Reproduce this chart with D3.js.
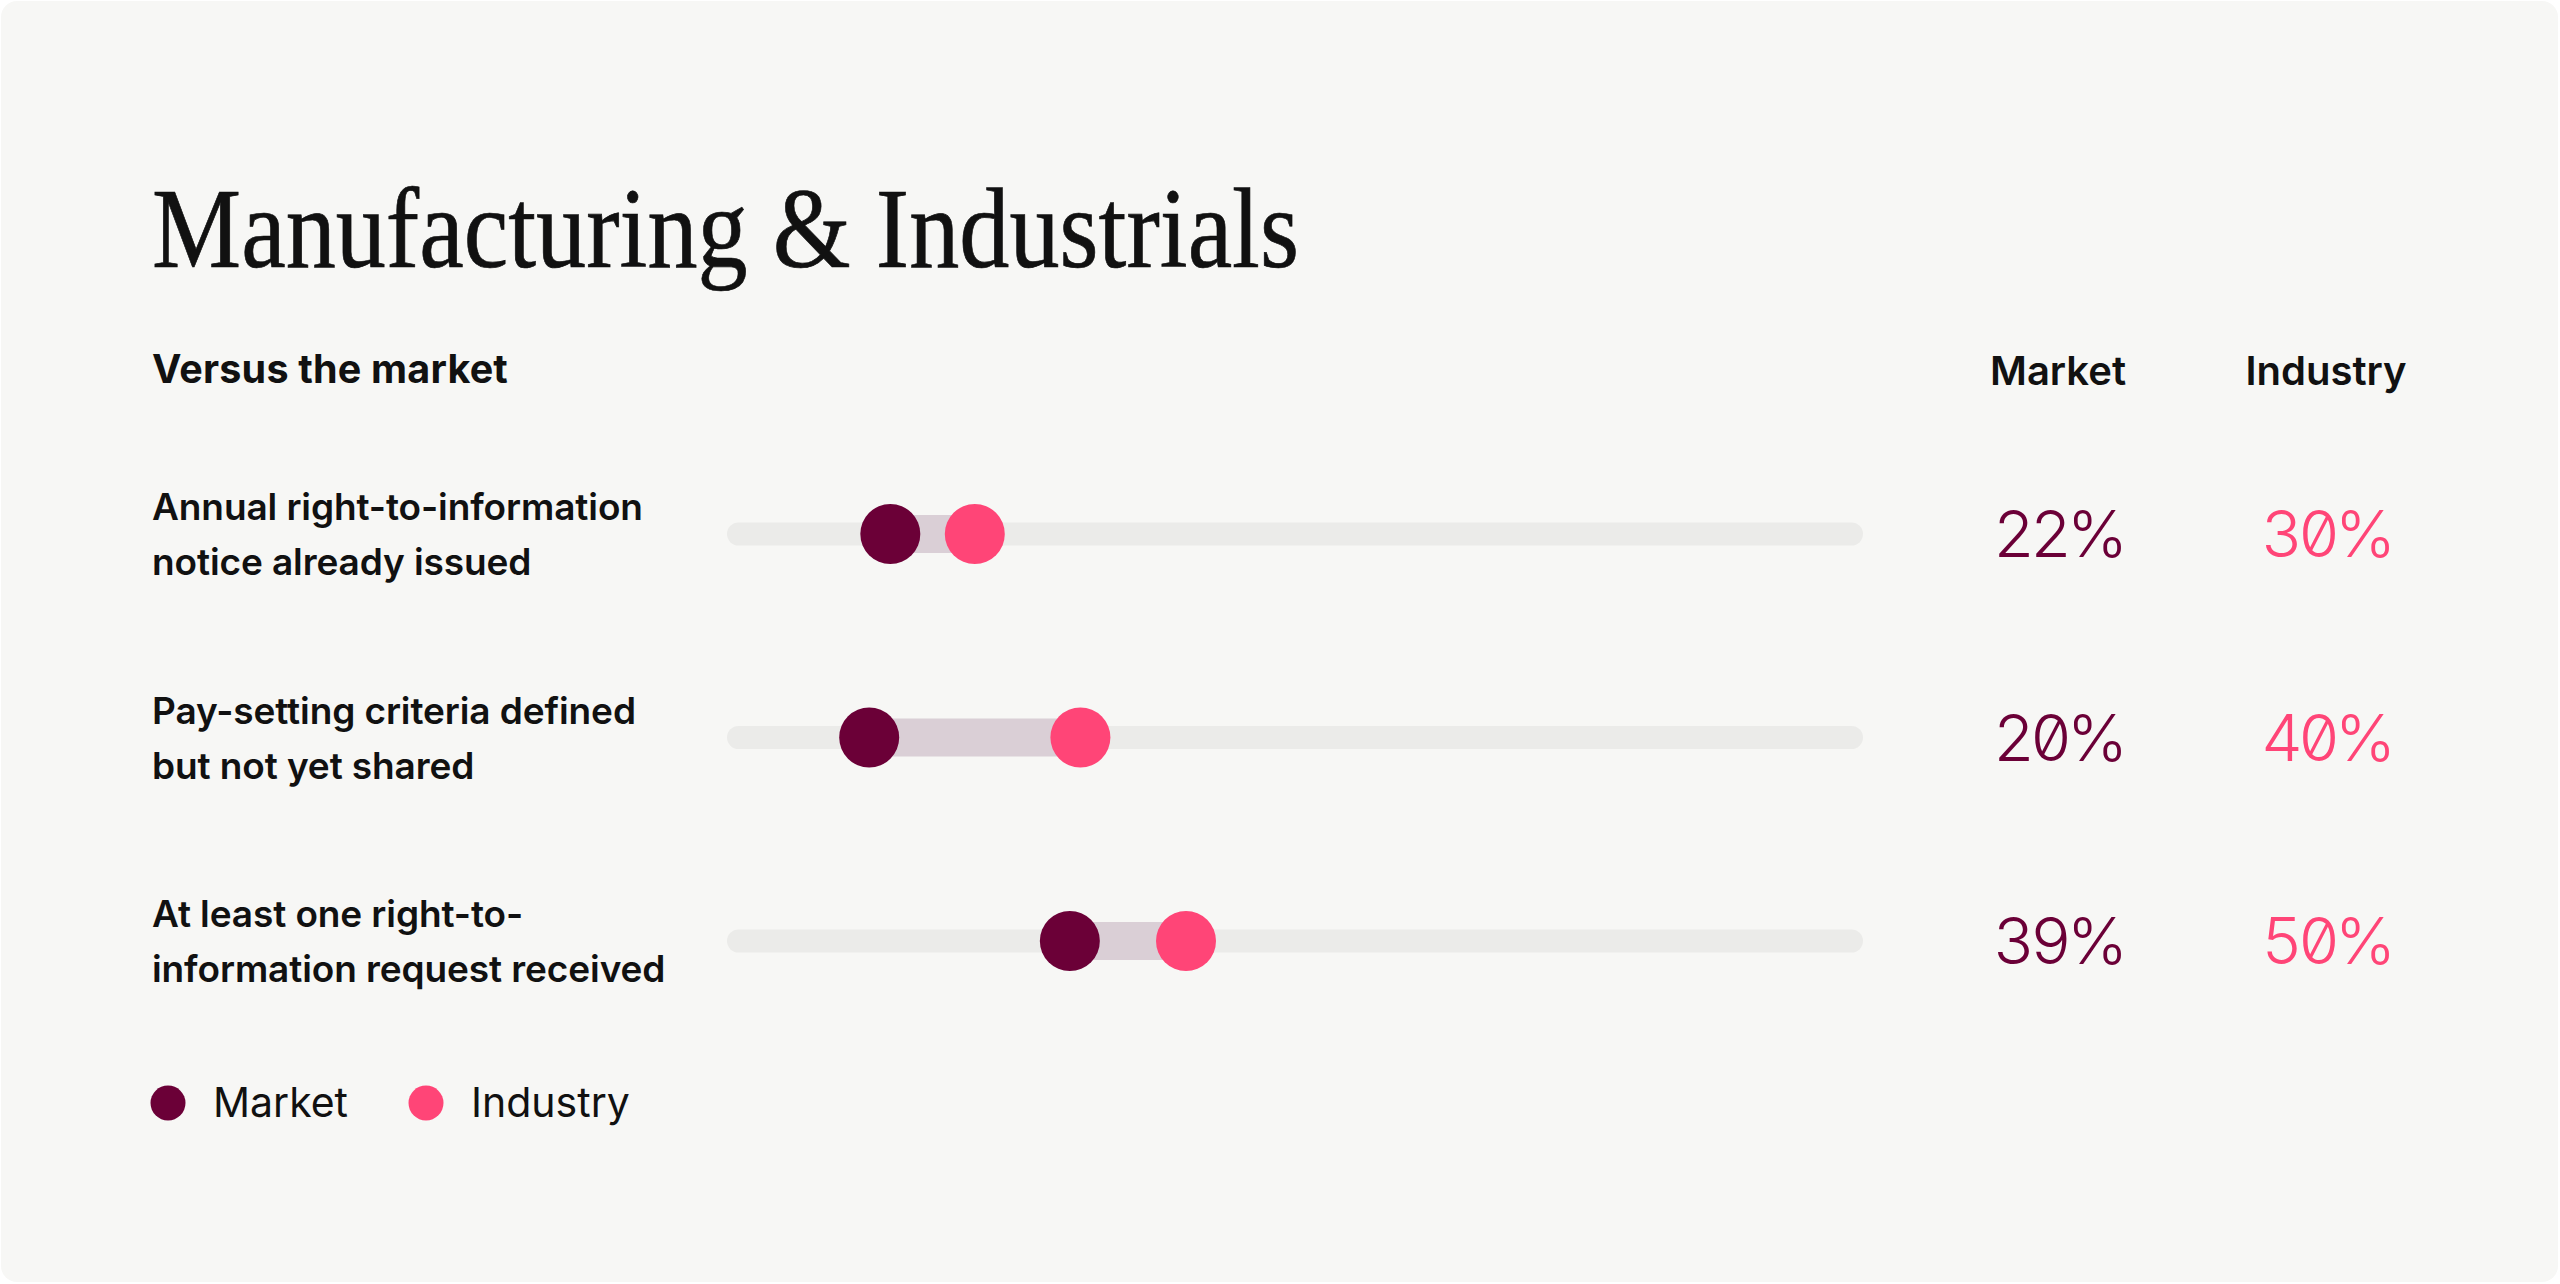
<!DOCTYPE html>
<html>
<head>
<meta charset="utf-8">
<script src="https://cdn.jsdelivr.net/npm/d3@7"></script>
<style>
  body { margin: 0; background: #ffffff; }
  svg { display: block; }
  .sans { font-family: Inter, "Noto Sans", sans-serif; }
  .num { font-family: Inter, sans-serif; font-feature-settings: "zero" 1, "tnum" 1; }
</style>
</head>
<body>
<svg id="chart" width="2560" height="1284"></svg>
<script>
// dades del gràfic
const title = "Manufacturing & Industrials";
const subtitle = "Versus the market";
const categories = [
  ["Annual right-to-information", "notice already issued"],
  ["Pay-setting criteria defined", "but not yet shared"],
  ["At least one right-to-", "information request received"]
];
const seriesNames = ["Market", "Industry"];
const marketValues = [22, 20, 39];
const industryValues = [30, 40, 50];

const colors = { Market: "#6b0037", Industry: "#ff4577" };

const svg = d3.select("#chart");

// targeta de fons
svg.append("rect")
  .attr("x", 1).attr("y", 1)
  .attr("width", 2557).attr("height", 1281)
  .attr("rx", 16)
  .attr("fill", "#f7f7f5");

// títol
svg.append("text")
  .attr("x", 152).attr("y", 267)
  .attr("textLength", 1147)
  .attr("lengthAdjust", "spacingAndGlyphs")
  .style("font-family", "'Liberation Serif', serif")
  .style("font-size", "114px")
  .attr("fill", "#111")
  .attr("stroke", "#111")
  .attr("stroke-width", 0.7)
  .text(title);

svg.append("text")
  .attr("class", "sans")
  .attr("x", 152).attr("y", 383)
  .style("font-size", "39.5px")
  .style("font-weight", 700)
  .style("letter-spacing", "0.2px")
  .attr("fill", "#111")
  .text(subtitle);

// escales
const x = d3.scaleLinear().domain([0, 100]).range([658, 1714]);
const y = d3.scalePoint().domain(d3.range(categories.length)).range([534, 941]);
const col = d3.scalePoint().domain(seriesNames).range([2058, 2326]);

const trackLeft = 727, trackRight = 1863, trackH = 23;

// capçaleres de columna
svg.selectAll(".colhead")
  .data(seriesNames)
  .enter().append("text")
  .attr("class", "sans colhead")
  .attr("x", d => col(d)).attr("y", 385)
  .attr("text-anchor", "middle")
  .style("font-size", "40px")
  .style("font-weight", 600)
  .attr("fill", "#111")
  .text(d => d);

const rows = categories.map((c, i) => ({ lines: c, market: marketValues[i], industry: industryValues[i], i }));

const row = svg.selectAll(".row")
  .data(rows)
  .enter().append("g")
  .attr("class", "row")
  .attr("transform", d => `translate(0,${y(d.i)})`);

// etiquetes
row.append("text")
  .attr("class", "sans")
  .attr("x", 152)
  .style("font-size", "37px")
  .style("font-weight", 600)
  .style("letter-spacing", "-0.1px")
  .attr("fill", "#111")
  .selectAll("tspan")
  .data(d => d.lines)
  .enter().append("tspan")
  .attr("x", 152)
  .attr("y", (d, j) => j === 0 ? -14 : 41)
  .text(d => d);

// pista de fons
row.append("rect")
  .attr("x", trackLeft).attr("y", -trackH / 2)
  .attr("width", trackRight - trackLeft).attr("height", trackH)
  .attr("rx", trackH / 2)
  .attr("fill", "#ebebe9");

// rang entre punts
row.append("rect")
  .attr("x", d => x(Math.min(d.market, d.industry)))
  .attr("y", -19)
  .attr("width", d => Math.abs(x(d.industry) - x(d.market)))
  .attr("height", 38)
  .attr("fill", "#dacfd6");

// punts
row.append("circle")
  .attr("cx", d => x(d.market)).attr("cy", 0).attr("r", 30)
  .attr("fill", colors.Market);
row.append("circle")
  .attr("cx", d => x(d.industry)).attr("cy", 0).attr("r", 30)
  .attr("fill", colors.Industry);

// valors
row.append("text")
  .attr("class", "num")
  .attr("x", col("Market")).attr("y", 23)
  .attr("text-anchor", "middle")
  .style("font-size", "65px")
  .style("font-weight", 300)
  .style("letter-spacing", "-5px")
  .attr("fill", colors.Market)
  .text(d => d.market + "%");
row.append("text")
  .attr("class", "num")
  .attr("x", col("Industry")).attr("y", 23)
  .attr("text-anchor", "middle")
  .style("font-size", "65px")
  .style("font-weight", 300)
  .style("letter-spacing", "-5px")
  .attr("fill", colors.Industry)
  .text(d => d.industry + "%");

// llegenda
const legend = svg.selectAll(".legend")
  .data(seriesNames)
  .enter().append("g")
  .attr("class", "legend")
  .attr("transform", (d, i) => `translate(${168 + i * 258},1103)`);

legend.append("circle")
  .attr("r", 17.5)
  .attr("fill", d => colors[d]);

legend.append("text")
  .attr("class", "sans")
  .attr("x", 45).attr("y", 14)
  .style("font-size", "41px")
  .style("font-weight", 400)
  .attr("fill", "#111")
  .text(d => d);
</script>
</body>
</html>
